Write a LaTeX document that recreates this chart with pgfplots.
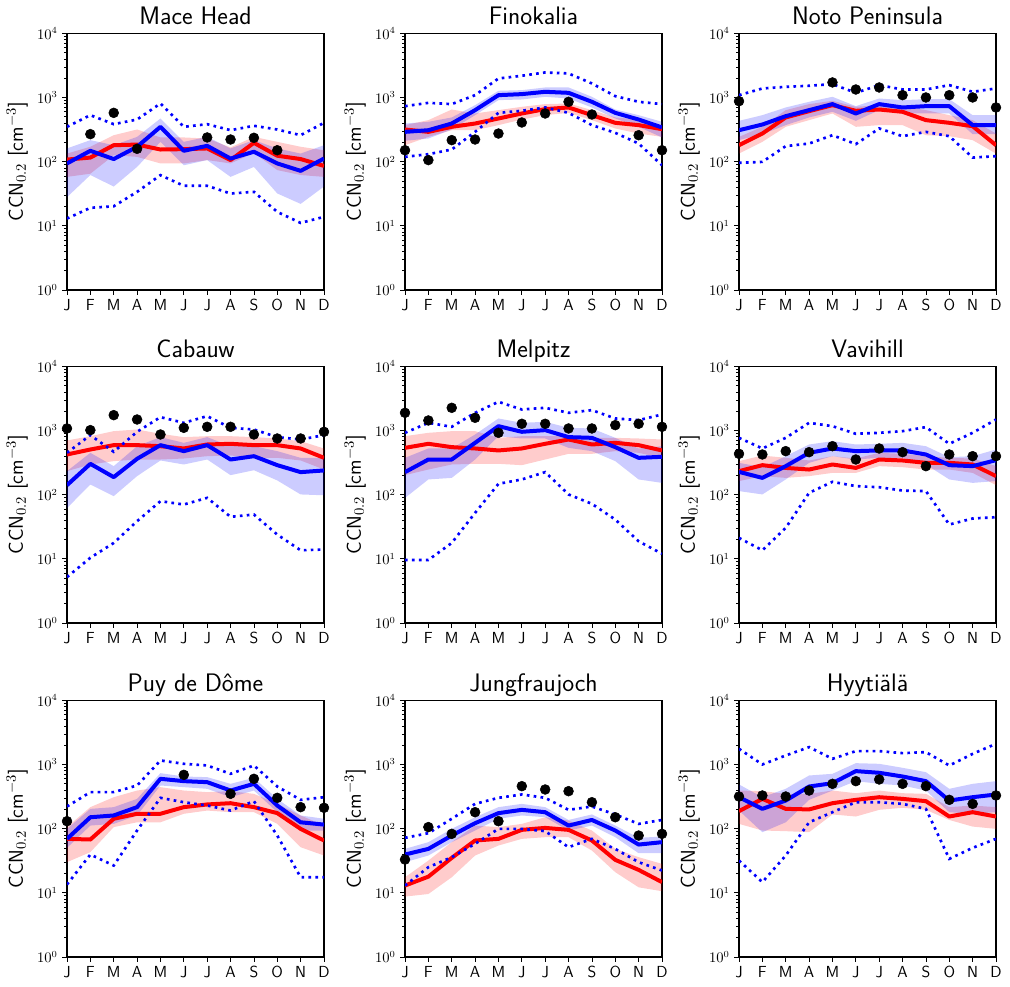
\documentclass[border=0pt]{standalone}
\usepackage{pgfplots}
\usepackage{pgfplotstable}
\pgfplotsset{compat=1.18}
\usepgfplotslibrary{fillbetween}
\renewcommand{\familydefault}{\sfdefault}

% columns: month, red line, red band (up/lo), blue line, blue band (up/lo), blue dotted (up/lo), observations
\pgfplotstableread{
m red rup rlo blue bup blo dup dlo obs
0 108 134 58 94 161 28 350 13.0 nan
1 116 171 65 148 217 62 532 19.1 269
2 181 259 126 110 181 41 385 20.2 578
3 185 318 119 171 244 83 455 33.9 159
4 155 239 94 350 472 204 809 61.7 nan
5 157 239 94 148 204 88 350 42.1 nan
6 161 230 106 177 244 106 385 42.1 239
7 106 167 94 112 161 58 310 31.9 222
8 197 244 137 143 217 83 363 33.9 236
9 124 204 74 94 161 32 318 16.5 151
10 110 171 62 72 134 22 259 11.1 nan
11 86 151 58 112 181 41 404 13.8 nan
}\macehead
\pgfplotstableread{
m red rup rlo blue bup blo dup dlo obs
0 318 372 181 292 394 212 735 119 151
1 292 445 244 310 419 230 828 131 106
2 350 652 310 394 490 318 791 155 217
3 394 565 310 637 762 532 1091 292 222
4 472 637 372 1091 1276 912 1986 578 275
5 565 718 455 1132 1306 934 2188 622 409
6 661 791 532 1230 1438 1028 2466 701 565
7 701 809 578 1186 1438 968 2377 578 859
8 532 637 445 859 1028 701 1660 372 545
9 404 490 330 578 652 472 1052 282 nan
10 372 455 275 455 532 350 859 192 259
11 322 372 244 342 419 239 791 88 151
}\finokalia
\pgfplotstableread{
m red rup rlo blue bup blo dup dlo obs
0 181 244 134 310 434 217 1091 96 879
1 275 350 204 380 532 269 1387 99.5 nan
2 490 637 350 513 701 372 1472 175 nan
3 614 791 445 637 859 490 1527 192 nan
4 762 891 565 791 1028 600 1621 259 1722
5 622 718 350 565 735 434 1186 188 1337
6 652 762 372 791 968 637 1563 330 1438
7 600 735 372 701 912 565 1337 250 1091
8 445 637 259 735 945 565 1337 292 1004
9 404 532 250 735 945 565 1563 250 1091
10 358 445 217 372 532 269 1230 116 1004
11 181 275 134 372 532 269 1387 122 701
}\noto
\pgfplotstableread{
m red rup rlo blue bup blo dup dlo obs
0 424 701 233 141 233 62 450 5.2 1079
1 507 818 296 303 450 144 849 10.4 1016
2 593 980 334 188 279 95 467 17.7 1741
3 593 1040 354 363 571 195 957 38.7 1489
4 571 891 354 593 791 342 1621 79.3 869
5 526 791 367 478 644 296 1321 70.3 1104
6 607 818 399 593 791 354 1679 89.3 1145
7 622 818 409 354 571 202 1104 45.2 1145
8 593 791 376 399 571 241 1040 49.1 869
9 593 753 376 289 478 167 791 23.9 753
10 526 684 342 225 376 101 726 13.6 753
11 376 526 247 239 376 98 849 14.0 957
}\cabauw
\pgfplotstableread{
m red rup rlo blue bup blo dup dlo obs
0 538 818 202 225 376 89 923 9.6 1894
1 622 923 247 354 526 173 1321 9.6 1438
2 552 980 296 354 526 183 1145 17.7 2265
3 526 980 303 644 869 354 1894 52.1 1583
4 490 771 303 1172 1545 818 2810 148 923
5 526 818 289 957 1321 753 2133 173 1276
6 622 818 354 1016 1370 753 2265 225 1276
7 726 818 434 791 1104 538 1894 101 1079
8 607 771 434 771 1079 478 2083 72.1 1079
9 644 771 478 552 771 334 1545 41.0 1216
10 593 753 450 376 526 173 1455 18.8 1276
11 490 726 376 390 571 153 1783 12.0 1145
}\melpitz
\pgfplotstableread{
m red rup rlo blue bup blo dup dlo obs
0 233 334 163 227 314 114 771 21.2 434
1 289 409 195 183 269 101 526 13.6 424
2 262 376 183 279 399 173 771 30.4 478
3 247 342 195 450 607 314 1321 107 461
4 296 399 219 526 684 399 1172 159 571
5 262 367 219 478 607 354 891 136 354
6 354 450 279 490 622 376 923 131 526
7 342 434 269 490 644 376 980 116 461
8 314 399 247 424 571 296 1132 114 279
9 314 376 247 289 385 173 622 34.3 424
10 296 367 219 279 399 153 923 42.6 399
11 195 279 141 346 507 163 1489 44.6 399
}\vavihill
\pgfplotstableread{
m red rup rlo blue bup blo dup dlo obs
0 69.5 106 30.1 69.5 99.5 50.3 222 13.5 131
1 67.9 217 43.1 151 204 112 372 39.6 nan
2 143 310 106 161 217 119 372 26.7 nan
3 171 394 126 217 292 161 472 93.8 nan
4 171 445 126 600 735 472 1159 303 nan
5 217 394 171 552 652 445 1028 259 692
6 239 372 192 532 637 419 968 230 nan
7 250 385 181 394 501 310 718 192 350
8 217 350 181 501 622 394 968 269 600
9 175 244 119 230 292 181 455 78.3 303
10 99.5 161 51.5 126 161 93.8 282 17.5 217
11 65.5 112 38.2 116 143 93.8 310 17.5 212
}\puy
\pgfplotstableread{
m red rup rlo blue bup blo dup dlo obs
0 13.0 17.5 8.75 39.6 48.5 30.1 72.1 13.0 33.1
1 17.9 31.9 9.6 48.5 61.7 38.2 85.1 25.1 106
2 35.1 61.7 17.5 78.3 99.5 61.7 143 36.0 83.2
3 65.5 112 38.2 122 151 93.8 244 58.1 181
4 69.5 106 54.7 175 217 143 303 99.5 131
5 96 119 69.5 197 244 161 342 99.5 461
6 103 151 73.8 181 217 151 303 91.6 409
7 96 134 73.8 112 137 93.8 197 51.5 385
8 65.5 93.8 45.7 137 167 112 222 69.5 259
9 32.7 48.5 21.0 93.8 112 73.8 167 48.5 151
10 22.8 36.0 12.2 56.6 72.1 41.5 119 30.1 78.3
11 14.7 28.3 10.6 61.7 75.5 41.5 137 22.3 83.2
}\jungfrau
\pgfplotstableread{
m red rup rlo blue bup blo dup dlo obs
0 188 394 119 310 490 192 1762 31.9 318
1 292 385 93.8 204 310 88.3 1004 14.7 330
2 204 350 91.6 275 419 126 1387 38.2 318
3 200 350 88.3 455 676 282 1871 126 394
4 250 394 167 513 718 394 1230 181 501
5 282 358 155 791 1052 552 1621 259 552
6 310 394 197 745 1028 501 1621 259 586
7 292 358 212 652 891 472 1508 244 501
8 269 350 197 552 762 394 1563 204 461
9 155 217 137 275 419 181 968 33.9 282
10 181 230 108 310 501 171 1472 50.3 244
11 155 217 99.5 342 552 181 2109 69.5 330
}\hyytiala

\newcommand{\ccnaxis}[4]{%
\begin{axis}[
    scale only axis, width=192.75pt, height=192.4pt,
    at={(#1,#2)}, anchor=south west,
    ymode=log, ymin=1, ymax=10000,
    xmin=0, xmax=11,
    xtick={0,1,2,3,4,5,6,7,8,9,10,11},
    xticklabels={J,F,M,A,M,J,J,A,S,O,N,D},
    ytick={1,10,100,1000,10000},
    tick align=outside, xtick pos=bottom, ytick pos=left,
    major tick length=3.5pt, minor tick length=2pt,
    every tick/.style={black, line width=0.6pt},
    axis line style={line width=0.8pt},
    yticklabel style={font=\fontsize{10.5}{12}\selectfont},
    xticklabel style={font=\fontsize{12}{14}\selectfont},
    ylabel={CCN$_{0.2}$ [cm$^{-3}$]},
    ylabel style={font=\fontsize{15}{18}\selectfont},
    title={#3},
    title style={font=\fontsize{19}{23}\selectfont, at={(0.5,1)}, anchor=base, yshift=1pt, inner sep=0pt},
  ]
  \addplot[draw=none, name path=rup] table[x=m, y=rup] {#4};
  \addplot[draw=none, name path=rlo] table[x=m, y=rlo] {#4};
  \addplot[fill=red, fill opacity=0.2, draw=none] fill between[of=rup and rlo];
  \addplot[draw=none, name path=bup] table[x=m, y=bup] {#4};
  \addplot[draw=none, name path=blo] table[x=m, y=blo] {#4};
  \addplot[fill=blue, fill opacity=0.2, draw=none] fill between[of=bup and blo];
  \addplot[red, line width=3pt, line join=round] table[x=m, y=red] {#4};
  \addplot[blue, line width=3pt, line join=round] table[x=m, y=blue] {#4};
  \addplot[blue, line width=2pt, dash pattern=on 2pt off 3.2pt] table[x=m, y=dup] {#4};
  \addplot[blue, line width=2pt, dash pattern=on 2pt off 3.2pt] table[x=m, y=dlo] {#4};
  \addplot[only marks, mark=*, mark size=3.7pt, black] table[x=m, y=obs] {#4};
\end{axis}}

\begin{document}
\begin{tikzpicture}
\ccnaxis{50.25pt}{522.75pt}{Mace Head}{\macehead}
\ccnaxis{303.75pt}{522.75pt}{Finokalia}{\finokalia}
\ccnaxis{554.25pt}{522.75pt}{Noto Peninsula}{\noto}
\ccnaxis{50.25pt}{273pt}{Cabauw}{\cabauw}
\ccnaxis{303.75pt}{273pt}{Melpitz}{\melpitz}
\ccnaxis{554.25pt}{273pt}{Vavihill}{\vavihill}
\ccnaxis{50.25pt}{22.5pt}{Puy de Dôme}{\puy}
\ccnaxis{303.75pt}{22.5pt}{Jungfraujoch}{\jungfrau}
\ccnaxis{554.25pt}{22.5pt}{Hyytiälä}{\hyytiala}
\path (0,0) rectangle (757.5pt,740.25pt);
\end{tikzpicture}
\end{document}
